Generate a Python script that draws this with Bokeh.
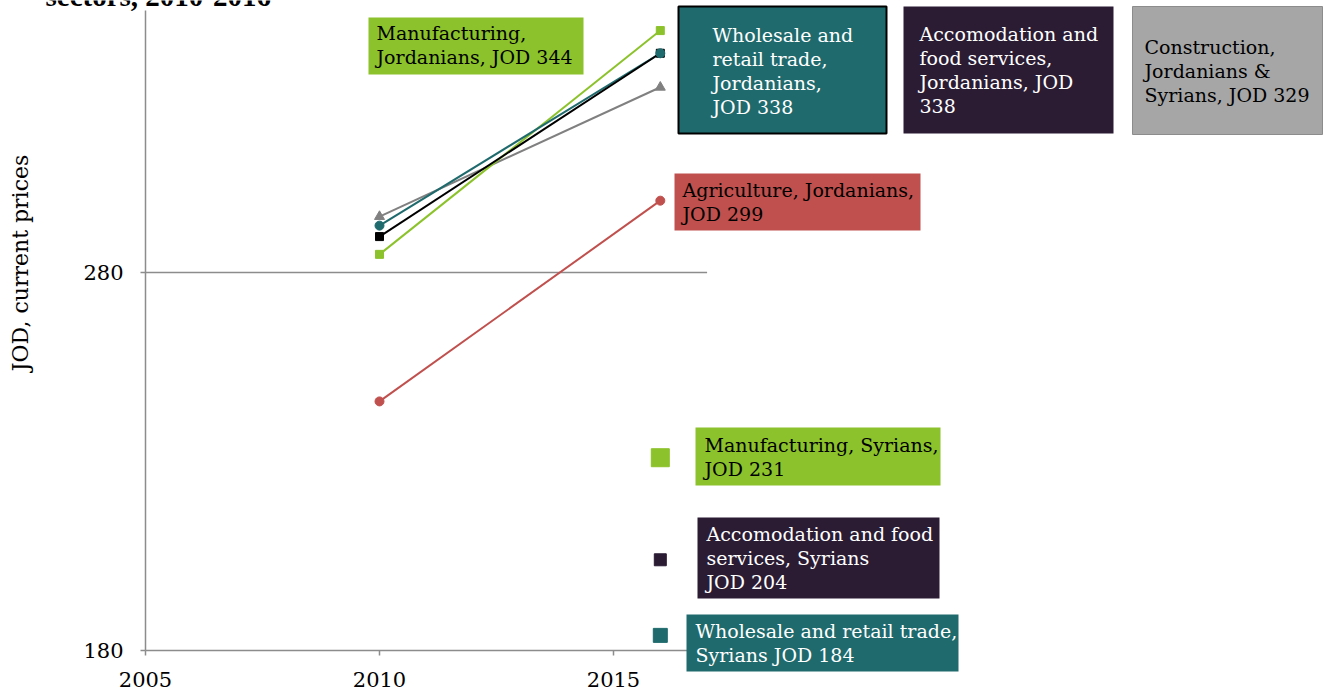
import math
from bokeh.plotting import figure
from bokeh.models import Range1d, FixedTicker, BoxAnnotation, Label
from bokeh.embed import file_html
from bokeh.resources import INLINE

# ---------------- data ----------------
years = [2010, 2016]
manufacturing_jo = [284.8, 344]
wholesale_jo = [292.4, 338]
accommodation_jo = [289.5, 338]
construction_all = [294.8, 329]
agriculture_jo = [245.9, 299]

syrian_year = [2016]
manufacturing_sy = [231]
accommodation_sy = [204]
wholesale_sy = [184]

x_ticks = [2005, 2010, 2015]
y_ticks = [180, 280]
x_axis_start = 2005
x_axis_end = 2017
y_title = "JOD,  current prices"

# ---------------- layout helpers (picture pixel -> data) ----------------
PX_YEAR = 46.8
PX_JOD = 3.78
def dx(xp):
    return 2005 + (xp - 145) / PX_YEAR
def dy(yp):
    return 180 + (650 - yp) / PX_JOD

W, H = 1325, 690

FONT = "DejaVu Serif"
GREEN = "#8CC22B"
TEAL = "#1F6A6D"
PURPLE = "#2B1C34"
RED = "#C0504D"
GREY = "#808080"
AXIS = "#8C8C8C"

p = figure(width=W, height=H,
           x_range=Range1d(dx(0), dx(W)), y_range=Range1d(dy(H), dy(0)),
           output_backend="svg", toolbar_location=None,
           min_border_left=0, min_border_right=0,
           min_border_top=0, min_border_bottom=0)
p.outline_line_color = None
p.background_fill_color = "white"
p.xgrid.visible = False
p.ygrid.visible = False

for ax in (p.xaxis[0], p.yaxis[0]):
    ax.axis_line_color = AXIS
    ax.axis_line_width = 1.5
    ax.major_tick_line_color = AXIS
    ax.major_tick_line_width = 1.5
    ax.major_tick_out = 5
    ax.major_tick_in = 0
    ax.minor_tick_line_color = None
    ax.major_label_text_font = FONT
    ax.major_label_text_font_size = "21px"
    ax.major_label_text_color = "black"

p.xaxis.ticker = FixedTicker(ticks=x_ticks)
p.yaxis.ticker = FixedTicker(ticks=y_ticks)
p.xaxis.fixed_location = y_ticks[0]
p.yaxis.fixed_location = x_axis_start
p.xaxis.bounds = (x_axis_start, x_axis_end)
p.yaxis.bounds = (y_ticks[0], dy(10))
p.xaxis.major_label_standoff = 16
p.yaxis.major_label_standoff = 17
p.yaxis.major_label_orientation = "horizontal"

# y axis title (placed like the reference, off-centre)
p.add_layout(Label(x=dx(20), y=dy(259), text=y_title, angle=math.pi / 2,
                   text_font=FONT, text_font_size="22px", text_color="black",
                   text_align="center", text_baseline="middle"))

# gridline at 280 (only to end of x axis)
p.segment(x0=[x_axis_start], x1=[x_axis_end], y0=[y_ticks[1]], y1=[y_ticks[1]],
          line_color=AXIS, line_width=1.5)

# ---------------- series ----------------
p.line(years, construction_all, line_color=GREY, line_width=2)
p.line(years, agriculture_jo, line_color=RED, line_width=2)
p.line(years, manufacturing_jo, line_color=GREEN, line_width=2)
p.line(years, wholesale_jo, line_color=TEAL, line_width=2)
p.line(years, accommodation_jo, line_color="black", line_width=2)

p.scatter(years, construction_all, marker="triangle", size=10, fill_color=GREY, line_color=GREY)
p.scatter(years, agriculture_jo, marker="circle", size=9, fill_color=RED, line_color=RED)
p.scatter(years, manufacturing_jo, marker="square", size=8, fill_color=GREEN, line_color=GREEN)
p.scatter(years, accommodation_jo, marker="square", size=8, fill_color="black", line_color="black")
p.scatter(years, wholesale_jo, marker="circle", size=9, fill_color=TEAL, line_color=TEAL)

p.scatter(syrian_year, manufacturing_sy, marker="square", size=18, fill_color=GREEN, line_color=GREEN)
p.scatter(syrian_year, accommodation_sy, marker="square", size=12, fill_color=PURPLE, line_color=PURPLE)
p.scatter(syrian_year, wholesale_sy, marker="square", size=14, fill_color=TEAL, line_color=TEAL)

# ---------------- annotation boxes ----------------
boxes = [
    # left, top, right, bottom, fill, border, border width, text, text x, text top, text colour
    (368, 17, 583, 74, GREEN, None, 0, "Manufacturing,\nJordanians, JOD 344", 376, 21, "black"),
    (678, 6, 886, 133, TEAL, "black", 2, "Wholesale and\nretail trade,\nJordanians,\nJOD 338", 712, 23, "white"),
    (903, 6, 1113, 133, PURPLE, None, 0, "Accomodation and\nfood services,\nJordanians,  JOD\n338", 919, 22, "white"),
    (1132, 6, 1322, 134, "#A6A6A6", "#8C8C8C", 1, "Construction,\nJordanians &\nSyrians, JOD 329", 1144, 35, "black"),
    (674, 173, 920, 230, RED, None, 0, "Agriculture, Jordanians,\nJOD 299", 682, 178, "black"),
    (695, 427, 940, 485, GREEN, None, 0, "Manufacturing, Syrians,\nJOD 231", 704, 433, "black"),
    (697, 517, 939, 598, PURPLE, None, 0, "Accomodation and food\nservices, Syrians\nJOD 204", 706, 522, "white"),
    (686, 614, 958, 671, TEAL, None, 0, "Wholesale and retail trade,\nSyrians JOD 184", 695, 619, "white"),
]
for (l, t, r, b, fill, border, bw, txt, tx, tt, tc) in boxes:
    p.add_layout(BoxAnnotation(left=dx(l), right=dx(r), top=dy(t), bottom=dy(b),
                               fill_color=fill, fill_alpha=1.0,
                               line_color=border, line_width=bw,
                               line_alpha=1.0 if border else 0.0))
    p.add_layout(Label(x=dx(tx), y=dy(tt), text=txt, text_font=FONT,
                       text_font_size="19px", text_color=tc,
                       text_baseline="top", text_align="left",
                       text_line_height=1.1))

# remnant of the cropped title (cut off at the top edge, as in the reference)
p.add_layout(Label(x=dx(45), y=dy(-5), text="sectors, 2010-2016",
                   text_font="Liberation Serif", text_font_style="bold",
                   text_font_size="29px", text_color="black",
                   text_baseline="alphabetic"))

open("out.html", "w").write(file_html(p, INLINE))
